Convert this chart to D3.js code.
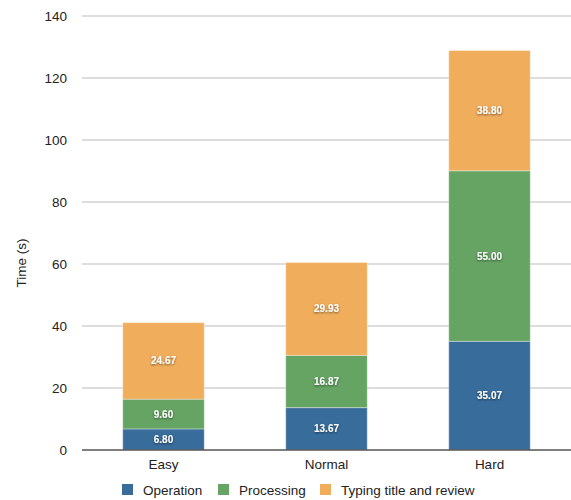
<!DOCTYPE html>
<html>
<head>
<meta charset="utf-8">
<script src="https://cdn.jsdelivr.net/npm/d3@7"></script>
<style>
  html, body { margin: 0; padding: 0; background: #fff; }
  svg { display: block; font-family: "Liberation Sans", Arial, Helvetica, sans-serif; }
</style>
</head>
<body>
<svg id="chart" width="571" height="500"></svg>
<script>
// Difficulty levels and the time spent in each phase (seconds)
const categories = ["Easy", "Normal", "Hard"];
const seriesNames = ["Operation", "Processing", "Typing title and review"];
const operation = [6.80, 13.67, 35.07];
const processing = [9.60, 16.87, 55.00];
const typing = [24.67, 29.93, 38.80];
const yTicks = [0, 20, 40, 60, 80, 100, 120, 140];
const colors = ["#386c9b", "#65a463", "#f0ad5c"];

const rows = categories.map((c, i) => ({
  category: c,
  "Operation": operation[i],
  "Processing": processing[i],
  "Typing title and review": typing[i]
}));

const svg = d3.select("#chart");
const plotLeft = 82, plotRight = 571, plotTop = 16, plotBottom = 450;
const labelSize = 13.5;

const x = d3.scaleBand().domain(categories).range([plotLeft, plotRight])
  .paddingInner(0.5).paddingOuter(0.25);
const y = d3.scaleLinear().domain([0, 140]).range([plotBottom, plotTop]);

// shadow for the value labels
const defs = svg.append("defs");
const f = defs.append("filter").attr("id", "shadow")
  .attr("x", "-20%").attr("y", "-40%").attr("width", "140%").attr("height", "180%");
f.append("feDropShadow").attr("dx", 0).attr("dy", 1).attr("stdDeviation", 0.8)
  .attr("flood-color", "#000").attr("flood-opacity", 0.55);

// horizontal grid
svg.append("g").selectAll("line")
  .data(yTicks.filter(t => t > 0))
  .join("line")
  .attr("x1", plotLeft).attr("x2", plotRight)
  .attr("y1", d => y(d)).attr("y2", d => y(d))
  .attr("stroke", "#d2d2d2").attr("stroke-width", 1.5);

// y axis tick labels
const yAxis = d3.axisLeft(y).tickValues(yTicks).tickSize(0).tickPadding(0);
const ya = svg.append("g").attr("transform", `translate(67,0)`).call(yAxis);
ya.select(".domain").remove();
ya.selectAll("text").attr("font-size", labelSize).attr("fill", "#222")
  .attr("font-family", "Liberation Sans, Arial, sans-serif");

// stacked bars
const stack = d3.stack().keys(seriesNames)(rows);
const layers = svg.append("g").selectAll("g")
  .data(stack).join("g")
  .attr("fill", (d, i) => colors[i]);

layers.selectAll("rect")
  .data(d => d)
  .join("rect")
  .attr("x", d => x(d.data.category))
  .attr("width", x.bandwidth())
  .attr("y", d => y(d[1]))
  .attr("height", d => y(d[0]) - y(d[1]))
  .attr("stroke", "rgba(255,255,255,0.35)")
  .attr("stroke-width", 1);

// value labels centred in each segment
layers.selectAll("text")
  .data(d => d)
  .join("text")
  .attr("x", d => x(d.data.category) + x.bandwidth() / 2)
  .attr("y", d => (y(d[0]) + y(d[1])) / 2)
  .attr("dy", "0.35em")
  .attr("text-anchor", "middle")
  .attr("font-size", 10)
  .attr("font-weight", "bold")
  .attr("fill", "#fff")
  .attr("filter", "url(#shadow)")
  .text(d => (d[1] - d[0]).toFixed(2));

// baseline
svg.append("line")
  .attr("x1", plotLeft).attr("x2", plotRight)
  .attr("y1", y(0)).attr("y2", y(0))
  .attr("stroke", "#555").attr("stroke-width", 1.5);

// x axis labels
const xAxis = d3.axisBottom(x).tickSize(0).tickPadding(0);
const xa = svg.append("g").attr("transform", `translate(0,${plotBottom + 9})`).call(xAxis);
xa.select(".domain").remove();
xa.selectAll("text").attr("font-size", labelSize).attr("fill", "#222")
  .attr("dy", "0.71em")
  .attr("font-family", "Liberation Sans, Arial, sans-serif");

// y axis title
svg.append("text")
  .attr("transform", `translate(26,${(plotTop + plotBottom) / 2 + 30}) rotate(-90)`)
  .attr("text-anchor", "middle")
  .attr("font-size", labelSize)
  .attr("fill", "#222")
  .text("Time (s)");

// legend
const legendX = [122, 218, 320];
const legend = svg.append("g").selectAll("g")
  .data(seriesNames).join("g")
  .attr("transform", (d, i) => `translate(${legendX[i]},484)`);
legend.append("rect")
  .attr("width", 11).attr("height", 11)
  .attr("fill", (d, i) => colors[i]);
legend.append("text")
  .attr("x", 21).attr("y", 6).attr("dy", "0.35em")
  .attr("font-size", labelSize).attr("fill", "#222")
  .text(d => d);
</script>
</body>
</html>
